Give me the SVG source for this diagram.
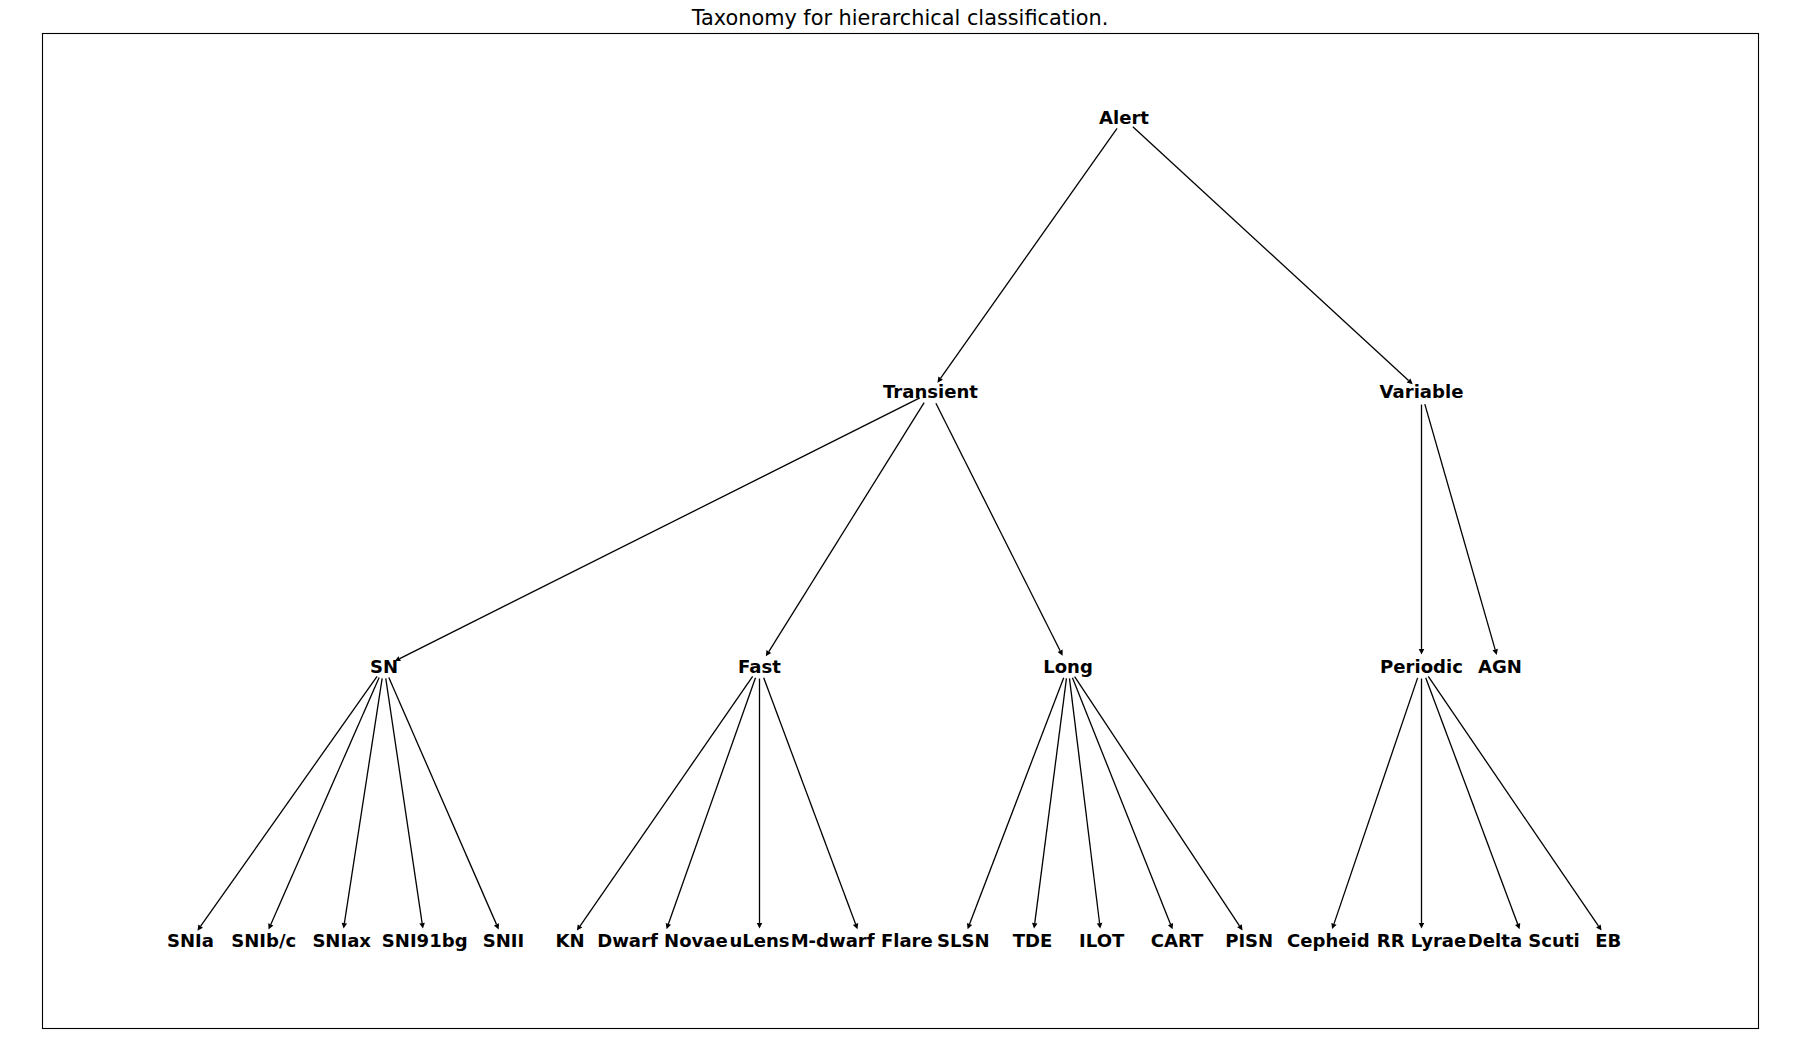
<svg xmlns="http://www.w3.org/2000/svg" width="1800" height="1061" viewBox="0 0 1800 1061">
<style>
.n { font-family: "DejaVu Sans", "Liberation Sans", sans-serif; font-weight: bold; font-size: 18.06px; text-anchor: middle; fill: #000; }
.title { font-family: "DejaVu Sans", "Liberation Sans", sans-serif; font-size: 20.83px; text-anchor: middle; fill: #000; }
.e line { stroke: #000; stroke-width: 1.3; marker-end: url(#ah); }
</style>
<defs>
<marker id="ah" markerUnits="userSpaceOnUse" markerWidth="12" markerHeight="12" refX="0" refY="0" orient="auto" overflow="visible">
<path d="M0,-2.78 L5.56,0 L0,2.78 Z" fill="#000"/>
</marker>
</defs>
<rect x="0" y="0" width="1800" height="1061" fill="#fff"/>
<text class="title" x="900" y="25">Taxonomy for hierarchical classification.</text>
<rect x="42.5" y="33.5" width="1716" height="995" fill="none" stroke="#000" stroke-width="1.1"/>
<g id="edges" class="e">
<line x1="1117.06" y1="128.33" x2="940.65" y2="378.13"/>
<line x1="1132.85" y1="126.65" x2="1408.56" y2="380.58"/>
<line x1="919.75" y1="397.89" x2="399.72" y2="658.62"/>
<line x1="924.13" y1="402.71" x2="768.81" y2="651.57"/>
<line x1="935.9" y1="403.25" x2="1060.11" y2="650.78"/>
<line x1="1421.5" y1="404.53" x2="1421.5" y2="648.91"/>
<line x1="1424.81" y1="404.06" x2="1495.16" y2="649.6"/>
<line x1="377.06" y1="676.33" x2="200.65" y2="926.13"/>
<line x1="379.16" y1="677.51" x2="270.78" y2="924.4"/>
<line x1="382.16" y1="678.39" x2="344.39" y2="923.12"/>
<line x1="385.77" y1="678.4" x2="422.11" y2="923.1"/>
<line x1="388.81" y1="677.53" x2="496.47" y2="924.37"/>
<line x1="752.66" y1="676.39" x2="580.0" y2="926.04"/>
<line x1="755.49" y1="677.84" x2="668.37" y2="923.92"/>
<line x1="759.5" y1="678.53" x2="759.5" y2="922.91"/>
<line x1="763.7" y1="677.77" x2="855.56" y2="924.02"/>
<line x1="1063.71" y1="677.74" x2="969.57" y2="924.07"/>
<line x1="1066.45" y1="678.43" x2="1034.76" y2="923.06"/>
<line x1="1069.47" y1="678.44" x2="1099.55" y2="923.04"/>
<line x1="1072.45" y1="677.68" x2="1170.5" y2="924.15"/>
<line x1="1074.64" y1="676.53" x2="1239.49" y2="925.83"/>
<line x1="1417.63" y1="677.89" x2="1333.96" y2="923.85"/>
<line x1="1421.5" y1="678.53" x2="1421.5" y2="922.91"/>
<line x1="1425.71" y1="677.77" x2="1517.65" y2="924.02"/>
<line x1="1428.28" y1="676.44" x2="1598.39" y2="925.97"/>
</g>
<g id="node-alert"><text class="n" x="1124" y="124.3">Alert</text></g>
<g id="node-transient"><text class="n" x="930.5" y="398.3">Transient</text></g>
<g id="node-variable"><text class="n" x="1421.5" y="398.3">Variable</text></g>
<g id="node-sn"><text class="n" x="384" y="672.6">SN</text></g>
<g id="node-fast"><text class="n" x="759.5" y="672.6">Fast</text></g>
<g id="node-long"><text class="n" x="1068" y="672.6">Long</text></g>
<g id="node-periodic"><text class="n" x="1421.5" y="672.6">Periodic</text></g>
<g id="node-agn"><text class="n" x="1500" y="672.6">AGN</text></g>
<g id="node-snia"><text class="n" x="190.5" y="946.8">SNIa</text></g>
<g id="node-snibc"><text class="n" x="263.7" y="946.8">SNIb/c</text></g>
<g id="node-sniax"><text class="n" x="341.7" y="946.8">SNIax</text></g>
<g id="node-sni91bg"><text class="n" x="424.7" y="946.8">SNI91bg</text></g>
<g id="node-snii"><text class="n" x="503.5" y="946.8">SNII</text></g>
<g id="node-kn"><text class="n" x="570" y="946.8">KN</text></g>
<g id="node-dwarfnovae"><text class="n" x="662.5" y="946.8">Dwarf Novae</text></g>
<g id="node-ulens"><text class="n" x="759.5" y="946.8">uLens</text></g>
<g id="node-mdwarf"><text class="n" x="861.7" y="946.8">M-dwarf Flare</text></g>
<g id="node-slsn"><text class="n" x="963.3" y="946.8">SLSN</text></g>
<g id="node-tde"><text class="n" x="1032.5" y="946.8">TDE</text></g>
<g id="node-ilot"><text class="n" x="1101.7" y="946.8">ILOT</text></g>
<g id="node-cart"><text class="n" x="1177" y="946.8">CART</text></g>
<g id="node-pisn"><text class="n" x="1249.2" y="946.8">PISN</text></g>
<g id="node-cepheid"><text class="n" x="1328.3" y="946.8">Cepheid</text></g>
<g id="node-rrlyrae"><text class="n" x="1421.5" y="946.8">RR Lyrae</text></g>
<g id="node-deltascuti"><text class="n" x="1523.8" y="946.8">Delta Scuti</text></g>
<g id="node-eb"><text class="n" x="1608.3" y="946.8">EB</text></g>
</svg>
